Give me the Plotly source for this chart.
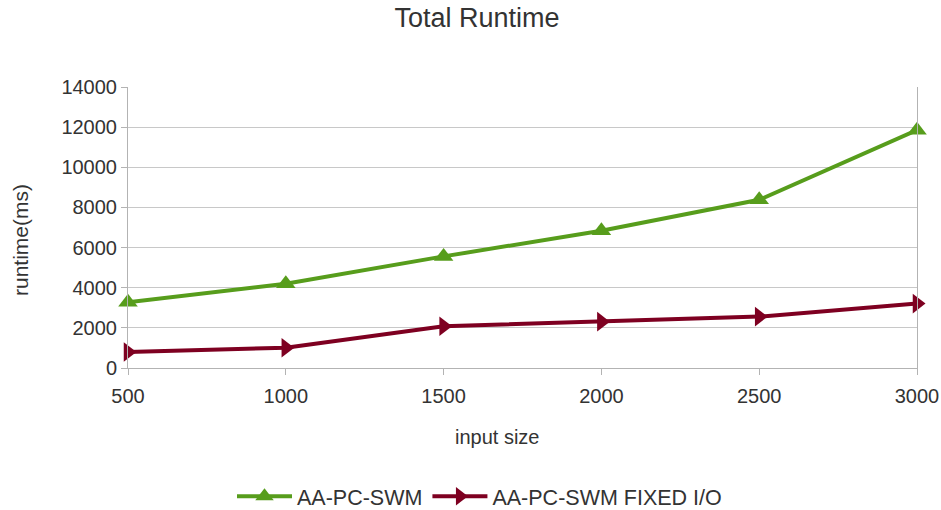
import plotly.graph_objects as go

input_size = [500, 1000, 1500, 2000, 2500, 3000]
aa_pc_swm = [3280, 4200, 5560, 6840, 8380, 11850]
aa_pc_swm_fixed_io = [800, 1010, 2080, 2310, 2560, 3210]
y_ticks = [0, 2000, 4000, 6000, 8000, 10000, 12000, 14000]

GREEN = "#579d1c"
RED = "#7e0021"
FONT = "Liberation Sans, Arial, sans-serif"
TXT = "#333333"
W, H = 941, 510
ML, MR, MT, MB = 128, 24, 87, 142
PW, PH = W - ML - MR, H - MT - MB

fig = go.Figure()
fig.add_trace(go.Scatter(
    x=input_size, y=aa_pc_swm, name="AA-PC-SWM", mode="lines+markers",
    line=dict(color=GREEN, width=4),
    marker=dict(symbol="triangle-up", size=17, color=GREEN),
    cliponaxis=False,
))
fig.add_trace(go.Scatter(
    x=input_size, y=aa_pc_swm_fixed_io, name="AA-PC-SWM FIXED I/O", mode="lines+markers",
    line=dict(color=RED, width=4),
    marker=dict(symbol="triangle-right", size=17, color=RED),
    cliponaxis=False,
))

fig.update_layout(
    width=W, height=H,
    margin=dict(l=ML, r=MR, t=MT, b=MB, autoexpand=False),
    paper_bgcolor="white", plot_bgcolor="white",
    font=dict(family=FONT, size=20, color=TXT),
    title=dict(text="Total Runtime", x=0.507, xanchor="center", y=0.965, yanchor="middle",
               font=dict(size=27, color=TXT)),
    xaxis=dict(
        range=[500, 3000], tickvals=input_size, ticktext=[str(v) for v in input_size],
        showgrid=False, zeroline=False, showline=True, linecolor="#b3b3b3", linewidth=1,
        ticks="outside", ticklen=6, tickcolor="#b3b3b3", automargin=False,
        ticklabelstandoff=4,
        tickfont=dict(size=20, color=TXT),
    ),
    yaxis=dict(
        range=[0, 14000], tickvals=y_ticks, ticktext=[str(v) for v in y_ticks],
        showgrid=True, gridcolor="#c8c8c8", gridwidth=1, zeroline=False,
        showline=True, linecolor="#b3b3b3", linewidth=1, mirror=True,
        ticks="outside", ticklen=6, tickcolor="#b3b3b3", automargin=False,
        tickfont=dict(size=20, color=TXT),
    ),
    legend=dict(orientation="h", x=(238 - 6 - ML) / PW, xanchor="left", yref="container",
                y=0.027, yanchor="middle",
                font=dict(size=21.5, color=TXT), itemwidth=55),
    annotations=[
        dict(text="input size", xref="paper", yref="paper",
             x=(497 - ML) / PW, y=-(437 - MT - PH) / PH,
             xanchor="center", yanchor="middle", showarrow=False,
             font=dict(size=20, color=TXT)),
        dict(text="runtime(ms)", xref="paper", yref="paper",
             x=-(ML - 20) / PW, y=(MT + PH - 240) / PH,
             xanchor="center", yanchor="middle", showarrow=False, textangle=-90,
             font=dict(size=21, color=TXT)),
    ],
)

fig.write_html("out.html")
